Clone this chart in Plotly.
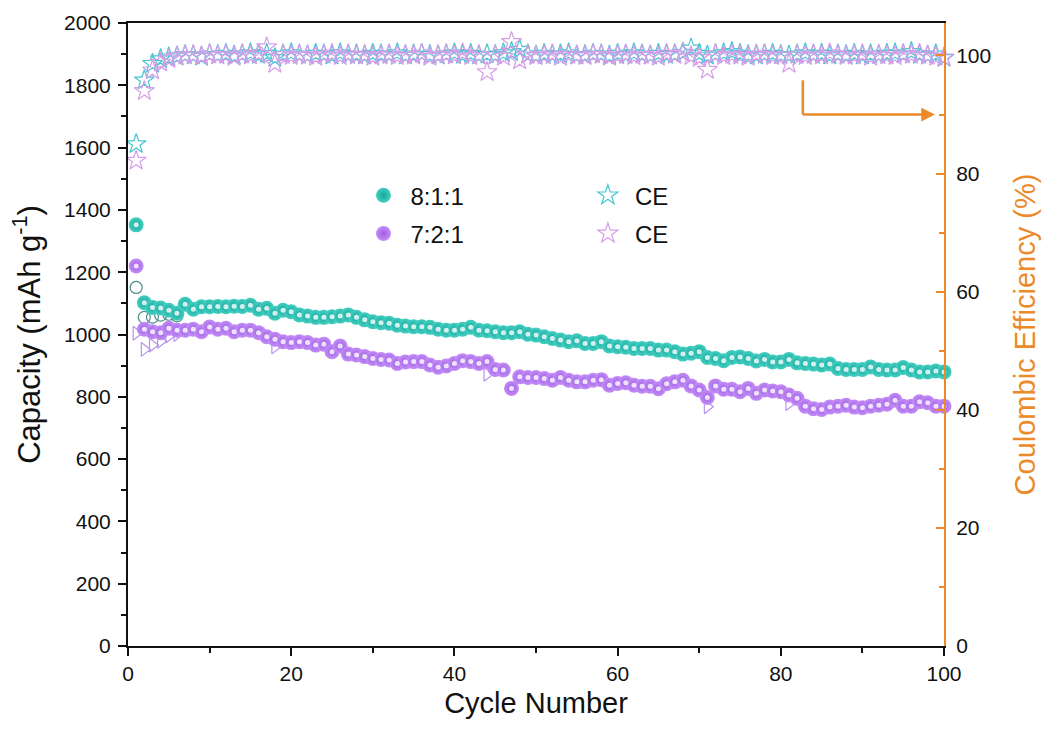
import plotly.graph_objects as go

# Cycle index
cycles = list(range(1, 101))

# Discharge capacity (mAh g-1)
cap_811 = [
    1352, 1102, 1087, 1085, 1078, 1068, 1097, 1081, 1089, 1089,
    1090, 1089, 1091, 1090, 1094, 1081, 1084, 1068, 1078, 1073,
    1063, 1059, 1055, 1055, 1057, 1059, 1063, 1055, 1047, 1041,
    1038, 1036, 1030, 1027, 1025, 1025, 1023, 1017, 1014, 1014,
    1017, 1023, 1014, 1012, 1009, 1006, 1006, 1009, 1001, 998,
    993, 987, 982, 977, 980, 971, 971, 977, 963, 961,
    959, 955, 955, 955, 950, 950, 945, 937, 940, 945,
    926, 923, 916, 926, 928, 923, 915, 920, 912, 912,
    920, 909, 907, 905, 902, 905, 891, 888, 888, 888,
    896, 888, 886, 886, 894, 886, 880, 880, 883, 880,
]
cap_721 = [
    1220, 1017, 1009, 1006, 1020, 1014, 1014, 1017, 1009, 1024,
    1017, 1020, 1009, 1014, 1014, 1006, 993, 985, 977, 974,
    977, 974, 966, 969, 945, 963, 937, 934, 929, 923,
    920, 918, 907, 912, 913, 913, 902, 895, 899, 907,
    916, 913, 907, 913, 888, 886, 827, 864, 862, 862,
    859, 853, 862, 853, 848, 848, 853, 855, 837, 843,
    845, 837, 834, 834, 826, 842, 848, 853, 835, 822,
    798, 835, 824, 824, 816, 827, 811, 822, 819, 816,
    806, 795, 770, 762, 759, 767, 770, 773, 767, 765,
    770, 773, 776, 789, 770, 770, 784, 781, 770, 770,
]

# Charge capacity points that show from behind the discharge markers
charge_811_cycles = [1, 2, 3, 4, 5, 6]
charge_811 = [1151, 1055, 1056, 1062, 1065, 1060]
charge_721_cycles = [1, 2, 3, 4, 5, 6, 18, 44, 71, 81]
charge_721 = [1004, 952, 966, 978, 995, 1000, 960, 872, 768, 778]

# Coulombic efficiency (%)
ce_811 = [
    85.0, 95.8, 98.6, 99.4, 99.7, 99.9, 100.1, 100.0, 99.8, 100.2,
    100.1, 100.3, 100.0, 100.2, 100.4, 100.1, 100.3, 99.6, 100.2, 100.4,
    100.1, 100.0, 100.3, 100.2, 100.0, 100.4, 100.1, 100.2, 100.0, 100.3,
    100.2, 100.1, 100.4, 100.0, 100.2, 100.3, 100.1, 100.0, 100.2, 100.4,
    100.1, 100.3, 100.0, 100.2, 100.1, 100.4, 100.6, 101.0, 100.2, 100.0,
    100.3, 100.1, 100.2, 100.4, 100.0, 100.1, 100.3, 100.2, 100.0, 100.3,
    100.1, 100.4, 100.2, 100.0, 100.3, 100.1, 100.2, 100.5, 101.2, 100.3,
    100.0, 100.2, 100.4, 100.6, 100.3, 100.1, 100.0, 100.2, 100.3, 100.1,
    100.0, 100.2, 100.4, 100.1, 100.3, 100.0, 100.2, 100.1, 100.3, 100.0,
    100.2, 100.1, 100.3, 100.4, 100.2, 100.6, 100.1, 100.0, 100.2, 99.6,
]
ce_721 = [
    82.2, 94.0, 97.5, 98.8, 99.4, 99.8, 100.0, 100.1, 99.9, 100.2,
    100.0, 100.1, 99.8, 100.2, 100.0, 100.3, 101.4, 98.6, 100.1, 99.9,
    100.2, 100.0, 99.8, 100.1, 100.3, 99.9, 100.2, 100.0, 100.1, 99.8,
    100.0, 100.2, 99.9, 100.1, 100.0, 100.3, 99.8, 100.1, 100.2, 100.0,
    100.4, 99.9, 100.1, 97.2, 100.0, 99.8, 102.3, 99.2, 100.1, 99.9,
    100.0, 100.2, 99.8, 100.1, 100.0, 99.9, 100.2, 100.1, 99.8, 100.0,
    100.2, 99.9, 100.1, 100.0, 99.8, 100.3, 100.1, 100.4, 99.9, 99.6,
    97.6, 100.2, 99.9, 100.1, 100.0, 99.8, 100.2, 100.1, 99.9, 100.0,
    98.6, 100.1, 99.9, 100.2, 100.0, 100.4, 100.1, 99.9, 100.0, 100.2,
    99.8, 100.1, 100.0, 99.9, 100.2, 100.1, 100.3, 100.0, 99.8, 99.7,
]

FONT = "Liberation Sans, Arial, sans-serif"
TEAL = "#13a89b"
TEAL_C = "#45cfc2"
PURPLE = "#9c5de4"
PURPLE_C = "#c48ef6"
CE_TEAL = "#47c6d2"
CE_PURPLE = "#d69de9"
ORANGE = "#ec8a2a"

fig = go.Figure()

# hollow charge markers sit underneath
fig.add_trace(go.Scatter(
    x=charge_811_cycles, y=charge_811, mode="markers", showlegend=False,
    marker=dict(symbol="circle-open", size=12, color="#4f8f89", line=dict(width=1.2)),
    cliponaxis=False,
))
fig.add_trace(go.Scatter(
    x=charge_721_cycles, y=charge_721, mode="markers", showlegend=False,
    marker=dict(symbol="triangle-right-open", size=12, color="#b994ea", line=dict(width=1.2)),
    cliponaxis=False,
))

# discharge spheres
for name, vals, body, centre, grp in [
    ("8:1:1", cap_811, TEAL, TEAL_C, "a"),
    ("7:2:1", cap_721, PURPLE, PURPLE_C, "b"),
]:
    fig.add_trace(go.Scatter(
        x=cycles, y=vals, mode="markers", name=name, legend="legend",
        legendgroup=grp,
        marker=dict(symbol="circle", size=15, color=centre,
                    gradient=dict(type="radial", color=body),
                    line=dict(width=0)),
        cliponaxis=False,
    ))
    fig.add_trace(go.Scatter(
        x=cycles, y=vals, mode="markers", showlegend=False, hoverinfo="skip",
        marker=dict(symbol="circle", size=5, color="rgba(255,255,255,0.8)", line=dict(width=0)),
        cliponaxis=False,
    ))

# coulombic efficiency stars on the right axis
for vals, col, grp in [(ce_811, CE_TEAL, "c"), (ce_721, CE_PURPLE, "d")]:
    fig.add_trace(go.Scatter(
        x=cycles, y=vals, yaxis="y2", mode="markers", name="CE",
        legend="legend2", legendgroup=grp,
        marker=dict(symbol="star-open", size=15, color=col, line=dict(width=1.2)),
        cliponaxis=False,
    ))

# arrow pointing to the CE axis
fig.add_shape(type="line", xref="x", yref="y2", x0=82.7, x1=82.7, y0=95.8, y1=90,
              line=dict(color=ORANGE, width=2.5))
fig.add_annotation(x=98.9, y=90, xref="x", yref="y2", ax=82.5, ay=90,
                   axref="x", ayref="y2", text="", showarrow=True,
                   arrowhead=2, arrowsize=1.1, arrowwidth=2.5, arrowcolor=ORANGE)

tickfont = dict(family=FONT, size=21, color="#111111")

fig.update_layout(
    width=1047, height=740,
    margin=dict(l=128, r=103, t=23, b=94),
    paper_bgcolor="white", plot_bgcolor="white",
    font=dict(family=FONT),
    xaxis=dict(
        range=[0, 100], dtick=20, tick0=0,
        showline=True, linecolor="#111111", linewidth=2, mirror=True,
        ticks="outside", ticklen=8, tickwidth=2, tickcolor="#111111",
        minor=dict(dtick=10, ticks="outside", ticklen=5, tickwidth=1.5, tickcolor="#111111"),
        showgrid=False, zeroline=False, tickfont=tickfont,
        title=dict(text="Cycle Number", font=dict(family=FONT, size=29, color="#111111"),
                   standoff=8),
    ),
    yaxis=dict(
        range=[0, 2000], dtick=200, tick0=0,
        showline=True, linecolor="#111111", linewidth=2,
        ticks="outside", ticklen=8, tickwidth=2, tickcolor="#111111",
        minor=dict(dtick=100, ticks="outside", ticklen=5, tickwidth=1.5, tickcolor="#111111"),
        showgrid=False, zeroline=False, tickfont=tickfont, ticklabelstandoff=3,
        title=dict(text="Capacity (mAh g<sup>-1</sup>)",
                   font=dict(family=FONT, size=31, color="#111111"), standoff=14),
    ),
    yaxis2=dict(
        overlaying="y", side="right", range=[0, 105.5], dtick=20, tick0=0,
        showline=True, linecolor=ORANGE, linewidth=2,
        ticks="inside", ticklen=8, tickwidth=2, tickcolor=ORANGE,
        minor=dict(dtick=10, ticks="inside", ticklen=5, tickwidth=1.5, tickcolor=ORANGE),
        showgrid=False, zeroline=False, tickfont=tickfont, ticklabelstandoff=6,
        title=dict(text="Coulombic Efficiency (%)", font=dict(family=FONT, size=29, color=ORANGE),
                   standoff=24),
    ),
    legend=dict(
        x=0.28, y=0.759, xanchor="left", yanchor="top",
        font=dict(family=FONT, size=24, color="#111111"),
        bgcolor="rgba(0,0,0,0)", borderwidth=0, tracegroupgap=4, itemwidth=44,
    ),
    legend2=dict(
        x=0.555, y=0.759, xanchor="left", yanchor="top",
        font=dict(family=FONT, size=24, color="#111111"),
        bgcolor="rgba(0,0,0,0)", borderwidth=0, tracegroupgap=4, itemwidth=44,
    ),
)

fig.write_html("out.html")
